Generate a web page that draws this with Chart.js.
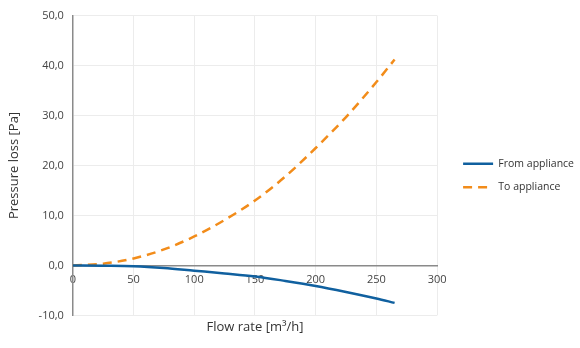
<!DOCTYPE html>
<html>
<head>
<meta charset="UTF-8">
<script src="https://cdn.jsdelivr.net/npm/chart.js"></script>
<style>
  html, body { margin: 0; padding: 0; background: #fff; }
  #wrap { width: 580px; height: 348px; }
</style>
</head>
<body>
<div id="wrap"><canvas id="chart"></canvas></div>
<script>
// Values
const flowRates = [0, 25, 50, 75, 100, 125, 150, 175, 200, 225, 250, 265];
const fromAppliance = [0, -0.05, -0.15, -0.5, -1.05, -1.6, -2.2, -3.1, -4.1, -5.3, -6.6, -7.5];
const toAppliance = [0, 0.35, 1.4, 3.2, 5.8, 9.1, 13.0, 17.8, 23.5, 29.7, 36.7, 41.2];
const xTicks = [0, 50, 100, 150, 200, 250, 300];
const yTicks = [-10, 0, 10, 20, 30, 40, 50];

const FONT = 'Open Sans';
const LEGEND_SHIFT_X = 13; // extra gap between plot and legend
const LEGEND_SHIFT_Y = 8;
const toPoints = ys => flowRates.map((x, i) => ({ x: x, y: ys[i] }));

// move the legend a bit after layout
const legendShift = {
    id: 'legendShift',
    afterLayout(chart) {
        const lg = chart.legend;
        if (lg) {
            lg.left += LEGEND_SHIFT_X;
            lg.right += LEGEND_SHIFT_X;
            lg.top += LEGEND_SHIFT_Y;
            lg.bottom += LEGEND_SHIFT_Y;
        }
    }
};

new Chart(document.getElementById('chart'), {
    type: 'line',
    data: {
        datasets: [{
            label: 'From appliance',
            data: toPoints(fromAppliance),
            borderColor: '#10609f',
            borderWidth: 2.5,
            pointRadius: 0,
            cubicInterpolationMode: 'monotone',
            fill: false
        }, {
            label: 'To appliance',
            data: toPoints(toAppliance),
            borderColor: '#f28c1a',
            borderWidth: 2.5,
            borderDash: [9, 6],
            pointRadius: 0,
            cubicInterpolationMode: 'monotone',
            fill: false
        }]
    },
    plugins: [legendShift],
    options: {
        responsive: true,
        maintainAspectRatio: false,
        animation: false,
        layout: { padding: { top: 0, left: 6, right: 9, bottom: 13 } },
        plugins: {
            legend: {
                position: 'right',
                labels: {
                    usePointStyle: true,
                    pointStyle: 'line',
                    pointStyleWidth: 30,
                    color: '#333',
                    font: { family: FONT, size: 10.5 },
                    padding: 13,
                    generateLabels: chart => {
                        const items = Chart.defaults.plugins.legend.labels.generateLabels(chart);
                        items.forEach(it => {
                            it.lineDash = chart.data.datasets[it.datasetIndex].borderDash || [];
                        });
                        return items;
                    }
                }
            },
            tooltip: { enabled: false }
        },
        scales: {
            x: {
                type: 'linear',
                position: { y: 0 },
                min: 0,
                max: 300,
                afterBuildTicks: axis => { axis.ticks = xTicks.map(v => ({ value: v })); },
                ticks: { color: '#444', font: { family: FONT, size: 11 }, padding: 8 },
                grid: { color: '#ececec', drawTicks: false },
                border: { color: '#8a8a8a', width: 1.5 }
            },
            xTitle: {
                type: 'linear',
                axis: 'x',
                position: 'bottom',
                min: 0,
                max: 300,
                ticks: { display: false },
                grid: { display: false, drawTicks: false },
                border: { display: false },
                title: {
                    display: true,
                    text: 'Flow rate [m³/h]',
                    color: '#333',
                    font: { family: FONT, size: 13 },
                    padding: { top: 4, bottom: 0 }
                }
            },
            y: {
                min: -10,
                max: 50,
                afterBuildTicks: axis => { axis.ticks = yTicks.map(v => ({ value: v })); },
                ticks: {
                    color: '#444',
                    font: { family: FONT, size: 11 },
                    padding: 9,
                    callback: v => v.toFixed(1).replace('.', ',')
                },
                grid: { color: '#ececec', drawTicks: false },
                border: { color: '#8a8a8a', width: 1.5 },
                title: {
                    display: true,
                    text: 'Pressure loss [Pa]',
                    color: '#333',
                    font: { family: FONT, size: 13 },
                    padding: { top: 0, bottom: 8 }
                }
            }
        }
    }
});
</script>
</body>
</html>
